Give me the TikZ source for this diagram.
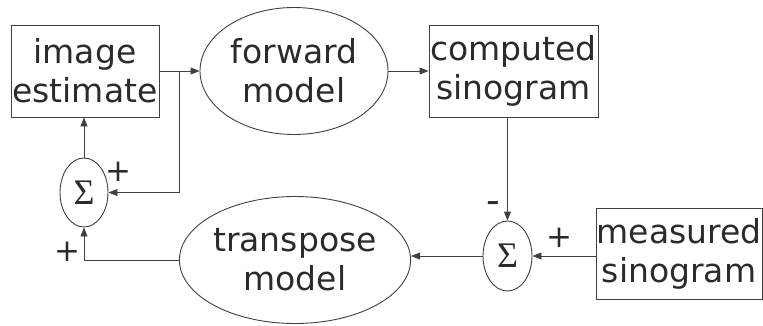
\documentclass[tikz,border=0pt]{standalone}
\usepackage{fontspec}
\newfontfamily\labfont{DejaVu Sans}
\newfontfamily\sigfont{Liberation Serif}
\usetikzlibrary{shapes.geometric,arrows.meta}
\definecolor{ink}{HTML}{2B2B2B}
\definecolor{wire}{HTML}{404040}
\tikzset{
  x=1pt, y=-1pt,
  txt/.style={font=\labfont\fontsize{33}{39}\selectfont, text=ink, align=center, inner sep=0pt},
  boxnode/.style={txt, draw=wire, line width=0.9pt, rectangle},
  ellnode/.style={txt, draw=wire, line width=0.9pt, ellipse},
  signode/.style={draw=wire, line width=0.9pt, ellipse, inner sep=0pt, text=ink, font=\sigfont\fontsize{36}{36}\selectfont},
  sgn/.style={font=\labfont\fontsize{31}{32}\selectfont, text=ink, inner sep=0pt},
  wireline/.style={draw=wire, line width=0.9pt},
  arr/.style={wireline, -{Triangle[length=9pt,width=7pt]}}
}
\begin{document}
\begin{tikzpicture}
\useasboundingbox (0,0) rectangle (763,325);
\node[boxnode, minimum width=148pt, minimum height=92pt] (img) at (85,71) {image\\estimate};
\node[ellnode, minimum width=188pt, minimum height=127pt] (fwd) at (294,71) {forward\\model};
\node[boxnode, minimum width=169pt, minimum height=92pt] (comp) at (513.5,71) {computed\\sinogram};
\node[boxnode, minimum width=166pt, minimum height=91pt] (meas) at (679,253.5) {measured\\sinogram};
\node[ellnode, minimum width=230pt, minimum height=127pt] (tr) at (295,260) {transpose\\model};
\node[signode, minimum width=48pt, minimum height=69pt] (s1) at (84,192.5) {Σ};
\node[signode, minimum width=49pt, minimum height=70pt] (s2) at (507.5,256) {Σ};
\coordinate (br) at (179,71);
\node[sgn] (p1) at (118,172) {+};
\node[sgn] (p2) at (67,252) {+};
\node[sgn, font=\labfont\fontsize{38}{38}\selectfont] (m1) at (493,208) {-};
\node[sgn] (p3) at (559,238) {+};
\draw[arr] (img.east) -- (fwd.west);
\draw[arr] (br) |- (s1.east);
\draw[arr] (s1.north) -- (s1.north |- img.south);
\draw[arr] (fwd.east) -- (comp.west);
\draw[arr] (s2.north |- comp.south) -- (s2.north);
\draw[arr] (meas.west |- s2.east) -- (s2.east);
\draw[arr] (s2.west) -- (s2.west -| tr.east);
\draw[arr] (tr.west) -| (s1.south);
\end{tikzpicture}
\end{document}
